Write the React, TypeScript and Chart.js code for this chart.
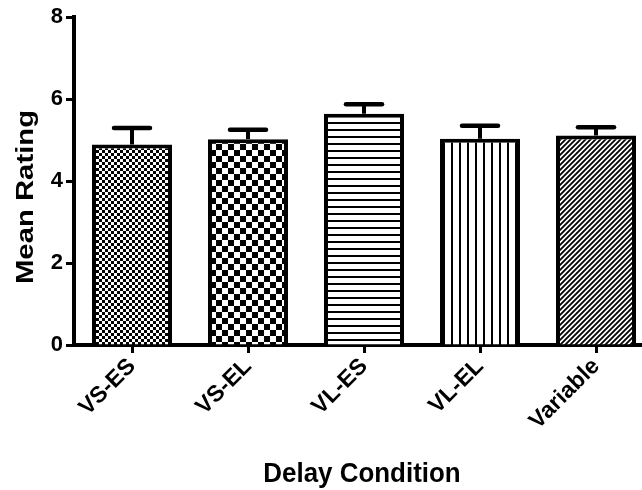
import React, { useEffect, useRef } from "react";
import { Chart, registerables } from "chart.js";

Chart.register(...registerables);

const categories = ["VS-ES", "VS-EL", "VL-ES", "VL-EL", "Variable"];
const means = [4.89, 5.02, 5.64, 5.03, 5.11];
const sems = [0.4, 0.23, 0.23, 0.32, 0.2];
const patternKinds = ["fineCheck", "check", "hlines", "vlines", "diag"];
const yTicks = [0, 2, 4, 6, 8];
const xTitle = "Delay Condition";
const yTitle = "Mean Rating";

const FONT = "'Liberation Sans', Arial, Helvetica, sans-serif";

function makePattern(ctx: CanvasRenderingContext2D, kind: string): CanvasPattern | string {
  const c = document.createElement("canvas");
  let w = 6;
  let h = 6;
  if (kind === "check") { w = 12; h = 12; }
  if (kind === "hlines") { w = 7; h = 7; }
  if (kind === "vlines") { w = 8; h = 8; }
  if (kind === "diag") { w = 5; h = 5; }
  c.width = w;
  c.height = h;
  const g = c.getContext("2d")!;
  g.fillStyle = "#fff";
  g.fillRect(0, 0, w, h);
  g.fillStyle = "#000";
  g.strokeStyle = "#000";
  if (kind === "fineCheck") {
    g.fillRect(0, 0, 3, 3);
    g.fillRect(3, 3, 3, 3);
  } else if (kind === "check") {
    g.fillRect(0, 0, 6, 6);
    g.fillRect(6, 6, 6, 6);
  } else if (kind === "hlines") {
    g.fillRect(0, 3, w, 2);
  } else if (kind === "vlines") {
    g.fillRect(3, 0, 2, h);
  } else if (kind === "diag") {
    g.lineWidth = 1.8;
    g.beginPath();
    g.moveTo(0, h); g.lineTo(w, 0);
    g.moveTo(-1, 1); g.lineTo(1, -1);
    g.moveTo(w - 1, h + 1); g.lineTo(w + 1, h - 1);
    g.stroke();
  }
  return ctx.createPattern(c, "repeat") || "#888";
}

const errorBarPlugin = {
  id: "errorBars",
  afterDatasetsDraw(chart: any) {
    const ctx = chart.ctx;
    const meta = chart.getDatasetMeta(0);
    const ys = chart.scales.y;
    ctx.save();
    ctx.strokeStyle = "#000";
    meta.data.forEach((el: any, i: number) => {
      const x = el.x;
      const top = el.y;
      const yv = ys.getPixelForValue(means[i] + sems[i]);
      ctx.lineWidth = 4;
      ctx.lineCap = "butt";
      ctx.beginPath();
      ctx.moveTo(x, top);
      ctx.lineTo(x, yv);
      ctx.stroke();
      ctx.lineWidth = 4.5;
      ctx.lineCap = "round";
      ctx.beginPath();
      ctx.moveTo(x - 18, yv);
      ctx.lineTo(x + 18, yv);
      ctx.stroke();
    });
    ctx.restore();
  },
};

const titlesPlugin = {
  id: "axisTitles",
  afterDraw(chart: any) {
    const ctx = chart.ctx;
    ctx.save();
    ctx.fillStyle = "#000";
    ctx.font = `bold 24px ${FONT}`;
    ctx.textAlign = "center";
    ctx.textBaseline = "alphabetic";
    ctx.save();
    ctx.translate(362, 482);
    ctx.scale(1.08, 1.12);
    ctx.fillText(xTitle, 0, 0);
    ctx.restore();
    ctx.save();
    ctx.translate(33, 197);
    ctx.rotate(-Math.PI / 2);
    ctx.scale(1.22, 1);
    ctx.fillText(yTitle, 0, 0);
    ctx.restore();
    ctx.restore();
  },
};

export default function App() {
  const ref = useRef<HTMLCanvasElement>(null);
  useEffect(() => {
    const canvas = ref.current!;
    const ctx = canvas.getContext("2d")!;
    const patterns = patternKinds.map((k) => makePattern(ctx, k));
    const chart = new Chart(canvas, {
      type: "bar",
      data: {
        labels: categories,
        datasets: [
          {
            data: means,
            backgroundColor: patterns as any,
            borderColor: "#000",
            borderWidth: 4,
            borderSkipped: "start",
            barPercentage: 0.69,
            categoryPercentage: 1,
          },
        ],
      },
      options: {
        responsive: false,
        animation: false,
        devicePixelRatio: 1,
        layout: { padding: { top: 17, left: 0, right: 0, bottom: 0 } },
        plugins: {
          legend: { display: false },
          tooltip: { enabled: false },
        },
        scales: {
          x: {
            grid: {
              offset: false,
              drawOnChartArea: false,
              drawTicks: true,
              tickLength: 8,
              tickWidth: 3,
              tickColor: "#000",
            },
            border: { display: true, color: "#000", width: 4 },
            ticks: {
              color: "#000",
              font: { family: FONT, size: 23, weight: "bold" },
              maxRotation: 45,
              minRotation: 45,
              padding: 0,
              autoSkip: false,
            },
            afterFit: (s: any) => {
              s.height = 145;
            },
          },
          y: {
            min: 0,
            max: 8,
            afterBuildTicks: (s: any) => {
              s.ticks = yTicks.map((v) => ({ value: v }));
            },
            grid: {
              drawOnChartArea: false,
              drawTicks: true,
              tickLength: 8,
              tickWidth: 3,
              tickColor: "#000",
            },
            border: { display: true, color: "#000", width: 4 },
            ticks: {
              color: "#000",
              font: { family: FONT, size: 22, weight: "bold" },
              padding: 3,
            },
            afterFit: (s: any) => {
              s.width = 74;
            },
          },
        },
      },
      plugins: [errorBarPlugin, titlesPlugin],
    });
    return () => chart.destroy();
  }, []);
  return (
    <div
      style={{
        position: "absolute",
        left: 0,
        top: 0,
        width: 642,
        height: 490,
        overflow: "hidden",
        background: "#fff",
      }}
    >
      <canvas ref={ref} width={654} height={490} style={{ display: "block" }} />
    </div>
  );
}
